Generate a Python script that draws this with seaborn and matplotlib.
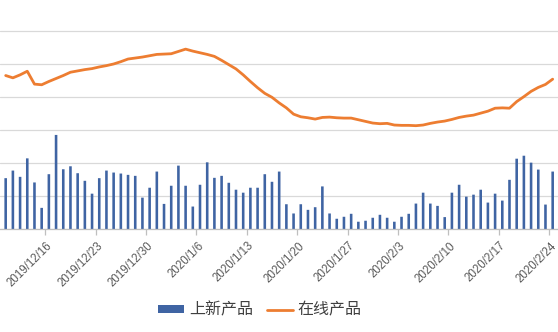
import numpy as np
import pandas as pd
import matplotlib
matplotlib.use("Agg")
import matplotlib.pyplot as plt
import seaborn as sns
from matplotlib.transforms import ScaledTranslation

# ---- data (units arbitrary) ----
dates = pd.date_range("2019-12-10", "2020-02-24", freq="D")
date_labels = [f"{d.year}/{d.month}/{d.day}" for d in dates]

new_products = [
    155, 178, 159, 215, 142, 65, 167, 286, 182, 191, 170, 147, 108, 155, 178, 172, 169, 165, 162,
    96, 126, 175, 77, 132, 193, 132, 69, 135, 203, 156, 162, 141, 120, 111, 126, 126, 167, 144,
    175, 76, 48, 76, 59, 67, 130, 48, 32, 38, 47, 23, 26, 35, 44, 35, 23, 38, 47, 78,
    111, 78, 71, 37, 111, 135, 99, 105, 120, 81, 108, 87, 150, 214, 223, 202, 181, 75, 175,
]
online_products = [
    4660, 4590, 4680, 4790, 4400, 4380, 4480, 4570, 4660, 4760,
    4800, 4840, 4870, 4920, 4960, 5010, 5080, 5160, 5190, 5220,
    5260, 5300, 5310, 5320, 5390, 5460, 5400, 5350, 5300, 5240,
    5120, 4990, 4860, 4680, 4480, 4290, 4120, 4000, 3830, 3680,
    3490, 3410, 3380, 3340, 3390, 3400, 3380, 3370, 3370, 3320,
    3270, 3220, 3200, 3210, 3160, 3150, 3150, 3140, 3160, 3210,
    3250, 3280, 3330, 3390, 3430, 3460, 3520, 3580, 3670, 3680,
    3670, 3870, 4020, 4180, 4300, 4390, 4550,
]
tick_labels = ["2019/12/16", "2019/12/23", "2019/12/30", "2020/1/6", "2020/1/13",
               "2020/1/20", "2020/1/27", "2020/2/3", "2020/2/10", "2020/2/17", "2020/2/24"]
series_names = ["上新产品", "在线产品"]

df = pd.DataFrame({
    "date": date_labels,
    "new": new_products,
    "online": online_products,
    "pos": np.arange(len(date_labels)),
})

# ---- style ----
sns.set_theme(style="white")
plt.rcParams["font.family"] = ["Noto Sans CJK SC", "DejaVu Sans"]

fig = plt.figure(figsize=(5.58, 3.32), dpi=100)
ax = fig.add_axes([0, 0.3093, 1, 0.6958])

sns.barplot(data=df, x="date", y="new", color="#3F64A3", saturation=1,
            width=0.36, linewidth=0, ax=ax, label=series_names[0])
for p in ax.patches:
    p.set_snap(False)
ax2 = ax.twinx()
sns.lineplot(data=df, x="pos", y="online", color="#ED7D31", lw=2.0,
             ax=ax2, label=series_names[1])

ax.set_xlim(-0.79, 76.74)
ax.set_ylim(0, 700)
ax2.set_ylim(0, 7000)
ax.set_yticks(np.arange(0, 701, 100))
ax.tick_params(axis="y", left=False, labelleft=False)
ax2.tick_params(axis="y", right=False, labelright=False)
ax.grid(axis="y", color="#D9D9D9", lw=0.9)
ax.set_axisbelow(True)
ax.set_xlabel("")
ax.set_ylabel("")
ax2.set_ylabel("")
for s in ["left", "right", "top"]:
    ax.spines[s].set_visible(False)
for s in ax2.spines.values():
    s.set_visible(False)
ax.spines["bottom"].set_color("#BFBFBF")
ax.spines["bottom"].set_linewidth(0.9)

pos_of = {lab: i for i, lab in enumerate(date_labels)}
major = [pos_of[t] for t in tick_labels]
ax.set_xticks(major)
ax.set_xticklabels(tick_labels, rotation=45, ha="right", rotation_mode="anchor",
                   fontsize=8.3, color="#595959", family="Liberation Sans")
ax.set_xticks([m - 0.5 for m in major], minor=True)
ax.tick_params(axis="x", which="major", bottom=True, length=0, pad=7.5)
ax.tick_params(axis="x", which="minor", bottom=True, length=4, width=0.9,
               color="#BFBFBF", direction="out")
shift = ScaledTranslation(-0.025, 0, fig.dpi_scale_trans)
for lab in ax.get_xticklabels():
    lab.set_transform(lab.get_transform() + shift)

h1, l1 = ax.get_legend_handles_labels()
h2, l2 = ax2.get_legend_handles_labels()
for a in (ax, ax2):
    if a.get_legend() is not None:
        a.get_legend().remove()
fig.legend(h1 + h2, l1 + l2, loc="center", bbox_to_anchor=(260 / 558, 1 - 310 / 332),
           ncol=2, frameon=False, fontsize=11.5, handlelength=1.6, handleheight=0.45,
           handletextpad=0.3, columnspacing=0.9, labelcolor="#404040")

fig.savefig("out.png", dpi=100)
